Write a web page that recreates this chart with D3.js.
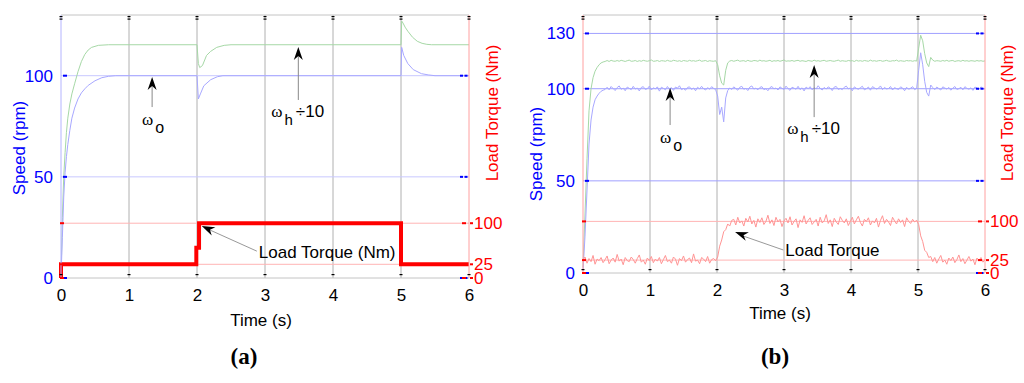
<!DOCTYPE html>
<html>
<head>
<meta charset="utf-8">
<script src="https://cdn.jsdelivr.net/npm/d3@7"></script>
<style>
  body { margin: 0; background: #fff; }
</style>
</head>
<body>
<svg id="chart" width="1024" height="383" font-family="'Liberation Sans', Arial, sans-serif"></svg>
<script>
// tick values
var timeTicks = [0, 1, 2, 3, 4, 5, 6];
var speedTicksA = [0, 50, 100];
var speedTicksB = [0, 50, 100, 130];
var torqueTicks = [0, 25, 100];

// panel (a): simulated, [time (s), value]
var omegaOA = [[0,0],[0.02,20],[0.04,40],[0.06,52],[0.08,60],[0.1,66],[0.13,73],[0.16,79],[0.2,84],[0.25,88.5],[0.3,91.5],[0.35,93.5],[0.4,95.2],[0.5,97.5],[0.6,99],[0.7,99.7],[0.8,100],
  [2.0,100],[2.02,88.5],[2.05,91],[2.1,95],[2.2,98],[2.3,99.5],[2.38,100],
  [5.0,100],[5.01,114],[5.04,110],[5.1,106],[5.18,103],[5.3,101],[5.4,100.4],[5.5,100],[6,100]];
var omegaHA = [[0,0],[0.02,30],[0.04,50],[0.06,62],[0.08,72],[0.1,79],[0.13,86],[0.16,91],[0.2,96],[0.25,102],[0.3,107],[0.35,110.5],[0.4,112.7],[0.45,114],[0.55,115],[0.7,115.3],
  [2.0,115.3],[2.02,106],[2.04,104],[2.08,105],[2.14,110],[2.2,112],[2.29,114],[2.4,115],[2.5,115.3],
  [5.0,115.3],[5.01,127],[5.03,126],[5.06,124],[5.1,122],[5.17,119],[5.24,117],[5.31,116],[5.38,115.5],[5.45,115.3],[6,115.3]];
var torqueA = [[0,0],[0,25],[1.99,25],[1.99,55],[2.03,55],[2.03,100],[5,100],[5,25],[6,25]];

// panel (b): experimental, one sample every 0.03 s
var sampleStepB = 0.03;
var omegaOB = [1, 20, 45, 70, 83, 90, 94, 96, 97.5, 98.6, 99.2, 99.6,
  100.8, 99.4, 101.2, 100.1, 99.0, 100.6, 101.5, 99.7, 100.3, 98.9,
  100.9, 100.2, 99.5, 101.3, 99.8, 100.4, 98.8, 100.7, 101.1, 99.6,
  100.0, 101.4, 99.3, 100.5, 99.9, 101.0, 98.7, 100.8, 100.2, 99.4,
  101.2, 99.8, 100.6, 99.1, 100.9, 100.3, 101.6, 99.5, 100.1, 99.2,
  100.7, 101.0, 99.6, 100.4, 98.9, 100.8, 99.9, 101.3, 100.0, 99.3,
  100.6, 99.7, 101.1, 100.2, 99.5,
  96, 86, 90, 82, 95, 99,
  100.4, 99.6, 101.0, 100.1, 99.2, 100.8, 101.3, 99.7, 100.2, 99.0,
  100.9, 101.5, 99.8, 100.3, 99.4, 100.7, 101.1, 99.5, 100.0, 98.9,
  100.6, 101.2, 99.9, 100.4, 99.3, 101.0, 100.2, 99.6, 101.4, 100.1,
  99.1, 100.8, 100.3, 99.7, 101.3, 99.5, 100.5, 98.8, 100.9, 100.0,
  101.1, 99.4, 100.6, 99.9, 101.6, 100.2, 99.3, 100.7, 99.8, 101.0,
  100.3, 99.0, 100.9, 101.2, 99.6, 100.1, 99.5, 100.8, 101.4, 99.9,
  100.4, 98.9, 101.0, 100.2, 99.7, 100.6, 101.3, 99.4, 100.0, 100.9,
  99.2, 101.1, 100.5, 99.8, 100.3, 101.5, 99.5, 100.7, 99.9, 100.1,
  101.2, 99.3, 100.6, 100.0, 99.6, 101.0, 100.4, 98.9, 100.8, 99.7,
  100.3, 101.1, 99.5, 100.2,
  110, 119.5, 113, 104, 98, 96, 102,
  100.6, 99.5, 100.9, 100.1, 99.3, 101.0, 100.4, 99.8, 100.7, 99.2,
  100.3, 101.2, 99.6, 100.0, 100.8, 99.4, 101.1, 100.2, 99.7, 100.5,
  99.1, 100.9, 100.3, 99.6, 101.0, 100.1, 99.8];
var omegaHB = [3, 32, 62, 88, 100, 106, 109.5, 111.5, 113, 114, 114.5, 114.8,
  115.3, 114.8, 115.4, 115.0, 114.9, 115.3, 114.9, 115.4, 115.1, 114.8,
  115.2, 115.5, 114.9, 115.0, 115.3, 114.8, 115.2, 114.9, 115.4, 115.1,
  114.9, 115.2, 115.6, 114.9, 115.0, 115.3, 114.8, 115.2, 115.1, 114.9,
  115.4, 115.0, 114.9, 115.4, 115.2, 114.9, 115.2, 114.8, 115.3, 115.1,
  114.9, 115.4, 115.0, 115.2, 114.9, 115.2, 115.5, 114.9, 115.1, 115.3,
  114.8, 115.2, 115.0, 114.9, 115.2,
  113, 107, 103, 102, 110, 114,
  115.0, 115.3, 114.9, 115.2, 115.5, 114.9, 115.1, 115.2, 114.8, 115.4,
  115.0, 114.9, 115.3, 115.2, 114.9, 115.5, 115.0, 115.2, 114.9, 115.1,
  115.4, 114.8, 115.2, 115.0, 115.3, 114.9, 115.2, 115.6, 114.9, 115.1,
  115.0, 115.3, 114.9, 115.2, 115.4, 114.9, 115.2, 115.0, 114.8, 115.3,
  115.1, 114.9, 115.5, 115.0, 115.2, 114.9, 115.2, 115.4, 114.9, 115.1,
  115.3, 115.0, 114.9, 115.2, 115.5, 114.9, 115.2, 115.0, 114.9, 115.3,
  115.1, 115.2, 114.8, 115.4, 115.0, 115.2, 114.9, 115.3, 115.1, 114.9,
  115.5, 115.0, 115.2, 114.9, 115.2, 115.3, 114.9, 115.1, 115.4, 115.0,
  114.9, 115.2, 115.1, 115.5, 114.9, 115.2, 115.0, 114.9, 115.3, 115.1,
  115.2, 114.9, 115.2, 115.0,
  122, 129, 126, 119, 114, 112, 117,
  115.5, 114.9, 115.2, 115.1, 114.9, 115.3, 115.0, 115.4, 114.9, 115.2,
  115.3, 114.8, 115.1, 115.2, 114.9, 115.4, 115.0, 115.2, 114.9, 115.2,
  115.1, 114.9, 115.3, 115.0, 115.2, 114.9, 115.1];
var torqueB = [25, 31, 19, 28, 22, 34, 17, 27, 24, 30,
  20, 26, 33, 18, 25, 29, 21, 36, 23, 27,
  16, 30, 24, 22, 31, 26, 19, 28, 35, 21,
  25, 17, 29, 24, 32, 20, 27, 23, 30, 18,
  26, 34, 22, 25, 19, 31, 27, 15, 28, 24,
  33, 21, 26, 29, 20, 37, 23, 25, 18, 30,
  27, 22, 32, 19, 26, 28, 24,
  31, 52, 64, 80, 84, 95, 91, 102,
  104, 93, 108, 97, 101, 91, 106, 99, 110, 95,
  102, 89, 105, 98, 107, 94, 100, 112, 96, 103,
  92, 108, 99, 104, 90, 101, 106, 97, 109, 93,
  100, 105, 88, 103, 98, 111, 95, 102, 107, 94,
  99, 104, 91, 108, 97, 101, 113, 96, 103, 90,
  106, 99, 94, 109, 102, 97, 105, 92, 100, 108,
  95, 103, 110, 98, 91, 104, 100, 107, 93, 101,
  97, 106, 89, 102, 111, 96, 104, 99, 92, 108,
  101, 95, 105, 98, 103, 90, 107, 100, 96, 104,
  99, 102,
  94, 72, 61, 44, 40, 30, 32,
  22, 30, 19, 27, 34, 21, 25, 17, 29, 24,
  31, 20, 26, 35, 22, 28, 18, 25, 32, 23,
  27, 16, 29, 24, 30, 21, 26];

function sampled(values) {
  return values.map(function(v, i) { return [i * sampleStepB, v]; });
}

var panels = [
  { left: 61, right: 469, top: 15, bottom: 278, speedMax: 130, torqueMax: 480,
    speedTicks: speedTicksA, omegaO: omegaOA, omegaH: omegaHA, torque: torqueA,
    torqueColor: '#ff0000', torqueWidth: 4, leftAxisColor: '#b4b4ff', speedGrid: '#c8c8ff',
    name: '(a)', nameX: 244, timeX: 261, timeY: 326, speedLabel: [19, 148], torqueLabel: [492, 113],
    loadText: 'Load Torque (Nm)',
    notes: { o: [1.34, 99.4, 84.5], h: [3.49, 114.2, 88], load: [2.07, 95, 2.88, 49] } },
  { left: 583, right: 985, top: 15, bottom: 273, speedMax: 140, torqueMax: 500,
    speedTicks: speedTicksB, omegaO: sampled(omegaOB), omegaH: sampled(omegaHB), torque: sampled(torqueB),
    torqueColor: '#ff9494', torqueWidth: 1, leftAxisColor: '#ffa0a0', speedGrid: '#a0a0ff',
    name: '(b)', nameX: 775, timeX: 780, timeY: 319, speedLabel: [536, 154], torqueLabel: [1007, 113],
    loadText: 'Load Torque',
    notes: { o: [1.3, 100.4, 80.3], h: [3.45, 112.9, 84.6], load: [2.27, 79.5, 2.99, 44.6] } }
];

var svg = d3.select('#chart');
svg.append('rect').attr('width', 1024).attr('height', 383).attr('fill', '#fff');

function arrowHead(g, x1, y1, x2, y2) {
  // filled head with its tip at (x2, y2)
  var ang = Math.atan2(y2 - y1, x2 - x1) * 180 / Math.PI + 90;
  g.append('path')
    .attr('d', 'M0,0 L-4.5,13 L0,9 L4.5,13 Z')
    .attr('fill', '#000')
    .attr('transform', 'translate(' + x2 + ',' + y2 + ') rotate(' + ang + ')');
}

panels.forEach(function(p) {
  var x = d3.scaleLinear().domain([0, 6]).range([p.left, p.right]);
  var ySpeed = d3.scaleLinear().domain([0, p.speedMax]).range([p.bottom, p.top]);
  var yTorque = d3.scaleLinear().domain([0, p.torqueMax]).range([p.bottom, p.top]);
  var g = svg.append('g');

  // grid
  g.selectAll('.vgrid').data(timeTicks.slice(1, -1)).enter().append('line')
    .attr('x1', d => x(d)).attr('x2', d => x(d)).attr('y1', p.top).attr('y2', p.bottom)
    .attr('stroke', '#b0b0b0').attr('stroke-width', 1);
  g.selectAll('.sgrid').data(p.speedTicks.slice(1)).enter().append('line')
    .attr('x1', p.left).attr('x2', p.right).attr('y1', d => ySpeed(d)).attr('y2', d => ySpeed(d))
    .attr('stroke', p.speedGrid).attr('stroke-width', 1);
  g.selectAll('.tgrid').data(torqueTicks.slice(1)).enter().append('line')
    .attr('x1', p.left).attr('x2', p.right).attr('y1', d => yTorque(d)).attr('y2', d => yTorque(d))
    .attr('stroke', '#ffb4b4').attr('stroke-width', 1);

  // curves
  var speedLine = d3.line().x(d => x(d[0])).y(d => ySpeed(d[1]));
  var torqueLine = d3.line().x(d => x(d[0])).y(d => yTorque(d[1]));
  g.append('path').attr('d', speedLine(p.omegaH)).attr('fill', 'none')
    .attr('stroke', '#a6d8a6').attr('stroke-width', 1);
  g.append('path').attr('d', speedLine(p.omegaO)).attr('fill', 'none')
    .attr('stroke', '#a8a8ff').attr('stroke-width', 1);
  g.append('path').attr('d', torqueLine(p.torque)).attr('fill', 'none')
    .attr('stroke', p.torqueColor).attr('stroke-width', p.torqueWidth);

  // frame
  g.append('line').attr('x1', p.left).attr('x2', p.right).attr('y1', p.top).attr('y2', p.top)
    .attr('stroke', '#c4c4c4');
  g.append('line').attr('x1', p.left).attr('x2', p.right).attr('y1', p.bottom).attr('y2', p.bottom)
    .attr('stroke', '#c4c4c4');
  g.append('line').attr('x1', p.left).attr('x2', p.left).attr('y1', p.top).attr('y2', p.bottom)
    .attr('stroke', p.leftAxisColor);
  g.append('line').attr('x1', p.right).attr('x2', p.right).attr('y1', p.top).attr('y2', p.bottom)
    .attr('stroke', '#ffa0a0');

  // tick marks
  timeTicks.forEach(function(t) {
    g.append('rect').attr('x', x(t) - 1.5).attr('y', p.top + 1).attr('width', 3).attr('height', 1.2).attr('fill', '#000');
    g.append('rect').attr('x', x(t) - 1.5).attr('y', p.top + 3.5).attr('width', 3).attr('height', 1.2).attr('fill', '#000');
    g.append('rect').attr('x', x(t) - 1.5).attr('y', p.bottom - 4).attr('width', 3).attr('height', 1.2).attr('fill', '#000');
  });
  p.speedTicks.forEach(function(s) {
    var yy = ySpeed(s);
    g.append('rect').attr('x', p.left + 2).attr('y', yy - 1).attr('width', 4).attr('height', 2).attr('fill', '#0000ff');
    g.append('rect').attr('x', p.right - 9).attr('y', yy - 1).attr('width', 3).attr('height', 2).attr('fill', '#0000ff');
    g.append('rect').attr('x', p.right - 4.5).attr('y', yy - 1).attr('width', 3).attr('height', 2).attr('fill', '#0000ff');
  });
  torqueTicks.forEach(function(v) {
    var yy = yTorque(v);
    g.append('rect').attr('x', p.left - 1).attr('y', yy - 1).attr('width', 4).attr('height', 2).attr('fill', '#ff0000');
    g.append('rect').attr('x', p.right - 7).attr('y', yy - 1).attr('width', 4).attr('height', 2).attr('fill', '#ff0000');
    g.append('rect').attr('x', p.right + 1).attr('y', yy - 1).attr('width', 3).attr('height', 2).attr('fill', '#ff0000');
  });

  // tick labels through d3 axes
  var ax = g.append('g').attr('transform', 'translate(0,' + p.bottom + ')')
    .call(d3.axisBottom(x).tickValues(timeTicks).tickFormat(d3.format('d')).tickSize(0).tickPadding(11));
  var al = g.append('g').attr('transform', 'translate(' + p.left + ',0)')
    .call(d3.axisLeft(ySpeed).tickValues(p.speedTicks).tickFormat(d3.format('d')).tickSize(0).tickPadding(8));
  var ar = g.append('g').attr('transform', 'translate(' + p.right + ',0)')
    .call(d3.axisRight(yTorque).tickValues(torqueTicks).tickFormat(d3.format('d')).tickSize(0).tickPadding(5));
  [ax, al, ar].forEach(function(a) {
    a.select('.domain').remove();
    a.attr('font-family', null).attr('font-size', 17);
  });
  ax.selectAll('text').attr('fill', '#000');
  al.selectAll('text').attr('fill', '#0000ff');
  ar.selectAll('text').attr('fill', '#ff0000');

  // axis titles
  g.append('text').attr('transform', 'translate(' + p.speedLabel[0] + ',' + p.speedLabel[1] + ') rotate(-90)')
    .attr('text-anchor', 'middle').attr('dominant-baseline', 'central')
    .attr('font-size', 17).attr('fill', '#0000ff').text('Speed (rpm)');
  g.append('text').attr('transform', 'translate(' + p.torqueLabel[0] + ',' + p.torqueLabel[1] + ') rotate(-90)')
    .attr('text-anchor', 'middle').attr('dominant-baseline', 'central')
    .attr('font-size', 17).attr('fill', '#ff0000').text('Load Torque (Nm)');
  g.append('text').attr('x', p.timeX).attr('y', p.timeY).attr('text-anchor', 'middle')
    .attr('font-size', 17).attr('fill', '#000').text('Time (s)');
  g.append('text').attr('x', p.nameX).attr('y', 364).attr('text-anchor', 'middle')
    .attr('font-family', '"Liberation Serif", "Times New Roman", serif').attr('font-weight', 'bold')
    .attr('font-size', 23).attr('fill', '#000').text(p.name);

  // annotations
  var n = p.notes;
  [['o', n.o], ['h', n.h]].forEach(function(item) {
    var ax0 = x(item[1][0]), tipY = ySpeed(item[1][1]), tailY = ySpeed(item[1][2]);
    g.append('line').attr('x1', ax0).attr('x2', ax0).attr('y1', tailY).attr('y2', tipY + 6)
      .attr('stroke', '#888').attr('stroke-width', 1);
    arrowHead(g, ax0, tailY, ax0, tipY);
    var t = g.append('text').attr('font-size', 16).attr('fill', '#000');
    if (item[0] === 'o') {
      t.attr('x', ax0 - 10).attr('y', tailY + 18);
      t.append('tspan').attr('font-family', '"Liberation Serif", serif').attr('font-size', 17).text('ω');
      t.append('tspan').attr('dx', 2).attr('dy', 8).text('o');
    } else {
      t.attr('x', ax0 - 27).attr('y', tailY + 17);
      t.append('tspan').attr('font-family', '"Liberation Serif", serif').attr('font-size', 17).text('ω');
      t.append('tspan').attr('dx', 2).attr('dy', 8).attr('font-size', 15).text('h');
      t.append('tspan').attr('dx', 3).attr('dy', -8).attr('font-size', 17).text('÷10');
    }
  });
  var lx1 = x(n.load[2]), ly1 = yTorque(n.load[3]), lx2 = x(n.load[0]), ly2 = yTorque(n.load[1]);
  g.append('line').attr('x1', lx1).attr('y1', ly1).attr('x2', lx2 + 8).attr('y2', ly2 + 4)
    .attr('stroke', '#999').attr('stroke-width', 1);
  arrowHead(g, lx1, ly1, lx2, ly2);
  g.append('text').attr('x', lx1 + 2).attr('y', ly1 + 1).attr('dominant-baseline', 'central')
    .attr('font-size', 17).attr('fill', '#000').text(p.loadText);
});
</script>
</body>
</html>
